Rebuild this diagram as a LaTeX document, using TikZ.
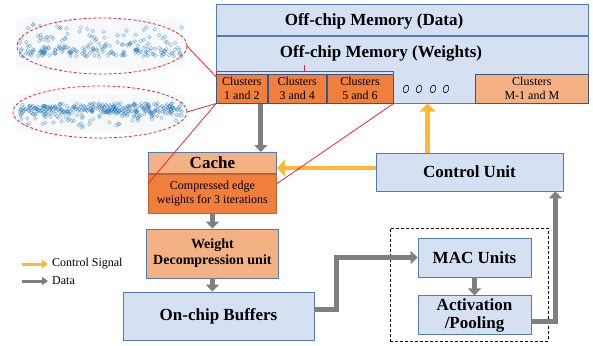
\documentclass[tikz,border=0pt]{standalone}
\usepackage{fontspec}
\setmainfont{Liberation Serif}
\usetikzlibrary{positioning,arrows.meta,calc}

\definecolor{memblue}{HTML}{D5E1F2}
\definecolor{edgeblue}{HTML}{5379B8}
\definecolor{salmon}{HTML}{F4B183}
\definecolor{clusterorange}{HTML}{F07E3C}
\definecolor{datagray}{HTML}{7F7F7F}
\definecolor{ctrlgold}{HTML}{FDB933}
\definecolor{zoomred}{HTML}{E8262B}
\definecolor{dotblue}{HTML}{2E7EBF}
\definecolor{plotbg}{HTML}{F7F9FC}

\tikzset{
	block/.style={draw=edgeblue, fill=memblue, line width=0.8pt, inner sep=0pt, align=center, font=\bfseries\fontsize{17}{18}\selectfont},
	clusterbox/.style={draw=edgeblue!70!black, fill=clusterorange, line width=0.8pt, inner sep=0pt, align=center, minimum height=29pt, font=\fontsize{12}{14}\selectfont},
	data/.style={draw=datagray, line width=5pt, -{Triangle[width=13pt,length=7pt]}},
	control/.style={draw=ctrlgold, line width=4.5pt, -{Triangle[width=16pt,length=8pt]}},
	zoomline/.style={draw=zoomred, line width=0.8pt},
	scatterpt/.style={draw=dotblue, line width=0.5pt, opacity=0.55},
	legend/.style={inner sep=0pt, font=\fontsize{12}{14}\selectfont},
}

\begin{document}
\begin{tikzpicture}[x=1pt, y=-1pt]
	\useasboundingbox (0,0) rectangle (593,345);

	\fill[plotbg] (16,18) rectangle (185,70);
	\fill[plotbg] (17,94) rectangle (185,132);
	\pgfmathsetseed{7}
	\foreach \i in {1,...,220}{
		\pgfmathsetmacro\px{20+162*rnd}
		\pgfmathsetmacro\py{57-9*rnd-28*rnd^4}
		\draw[scatterpt] (\px,\py) circle[radius=1.8pt];
	}
	\foreach \i in {1,...,360}{
		\pgfmathsetmacro\px{20+162*rnd}
		\pgfmathsetmacro\py{103+9*rnd+16*rnd^4}
		\draw[scatterpt] (\px,\py) circle[radius=1.8pt];
	}
	\draw[zoomline, densely dashed] (102,46) ellipse [x radius=85pt, y radius=28pt];
	\draw[zoomline, densely dashed] (100,112) ellipse [x radius=87pt, y radius=26pt];
	\coordinate (topplot) at (187,46);
	\coordinate (botplot) at (187,112);

	\node[block, minimum width=372pt, minimum height=31pt, anchor=north west] (offdata) at (216,4) {};
	\node[block, minimum width=372pt, minimum height=67pt, below=0pt of offdata] (offw) {};
	\node[font=\bfseries\fontsize{17}{18}\selectfont] (dtitle) at (374,21) {Off-chip Memory (Data)};
	\node[font=\bfseries\fontsize{17}{18}\selectfont] (wtitle) at (381,53) {Off-chip Memory (Weights)};

	\node[clusterbox, minimum width=51pt, anchor=south west] (c12) at (offw.south west) {Clusters\\1 and 2};
	\node[clusterbox, minimum width=58pt, right=0pt of c12] (c34) {Clusters\\3 and 4};
	\node[clusterbox, minimum width=66pt, right=0pt of c34] (c56) {Clusters\\5 and 6};
	\node[clusterbox, fill=salmon, minimum width=113pt, anchor=south east] (cM) at (offw.south east) {Clusters\\M-1 and M};
	\foreach \x in {406,419,433,446}
		\draw[line width=0.6pt, rotate around={-20:(\x,89)}] (\x,89) ellipse [x radius=2.7pt, y radius=3.9pt];

	\node[block, fill=salmon, minimum width=128pt, minimum height=21pt, anchor=north west] (cache) at (148,152) {Cache};
	\node[block, draw=clusterorange!80!black, fill=clusterorange, minimum width=128pt, minimum height=39pt, below=0pt of cache, font=\fontsize{12}{14}\selectfont] (cmpw) {Compressed edge\\weights for 3 iterations};
	\node[block, fill=salmon, minimum width=132pt, minimum height=49pt, below=15pt of cmpw, font=\bfseries\fontsize{14}{16}\selectfont] (wdu) {Weight\\Decompression unit};
	\node[block, minimum width=191pt, minimum height=48pt] (ocb) at (218.5,316) {On-chip Buffers};

	\node[block, minimum width=187pt, minimum height=38pt] (ctrl) at (469.5,172) {Control Unit};
	\node[draw, densely dashed, line width=0.7pt, minimum width=158pt, minimum height=113pt] (pe) at (469,284.5) {};
	\node[block, minimum width=113pt, minimum height=39pt] (mac) at (474.5,257.5) {MAC Units};
	\node[block, minimum width=113pt, minimum height=39pt, below=18pt of mac] (act) {Activation\\/Pooling};

	\draw[data] ([xshift=-7pt]c12.south east) -- ([xshift=-7pt]c12.south east |- cache.north);
	\draw[data] (cmpw.south) -- (wdu.north);
	\draw[data] (wdu.south) -- (wdu.south |- ocb.north);
	\draw[data] ([yshift=7pt]ocb.east) -- ++(22pt,0) |- (mac.west);
	\draw[data] (mac.south) -- (act.north);
	\draw[data] ([yshift=-6pt]act.east) -| ([xshift=-8pt]ctrl.south east);

	\draw[control] ([xshift=52pt]ctrl.north west) -- ([xshift=52pt]ctrl.north west |- offw.south);
	\draw[control] ([yshift=4pt]ctrl.west) -- ([yshift=4pt]ctrl.west -| cache.east);

	\coordinate (ctrlkey) at (22,264);
	\coordinate (datakey) at (22,281);
	\draw[control, line width=3pt, -{Triangle[width=8pt,length=6pt]}] (ctrlkey) -- ++(26pt,0) coordinate (ctrlkeyend);
	\draw[data, line width=3pt, -{Triangle[width=8pt,length=6pt]}] (datakey) -- ++(26pt,0) coordinate (datakeyend);
	\node[legend, right=4pt of ctrlkeyend] (ctrltext) {Control Signal};
	\node[legend, right=4pt of datakeyend] (datatext) {Data};

	\coordinate (brk) at ($(c12.north west)!0.5!(c56.north east)$);
	\draw[zoomline] ([yshift=-2pt]c12.north west) -- ([yshift=2pt]c12.north west) -- ([yshift=2pt]c56.north east) -- ([yshift=-2pt]c56.north east);
	\draw[zoomline] ([yshift=2pt]brk) -- ([yshift=9pt]brk);
	\draw[zoomline] (topplot) -- ([yshift=-3pt]c12.north west);
	\draw[zoomline] (botplot) -- (c12.south west);
	\draw[zoomline] (c12.south west) -- ([yshift=10pt]cmpw.west);
	\draw[zoomline] (c56.south east) -- ([yshift=10pt]cmpw.east);
\end{tikzpicture}
\end{document}
